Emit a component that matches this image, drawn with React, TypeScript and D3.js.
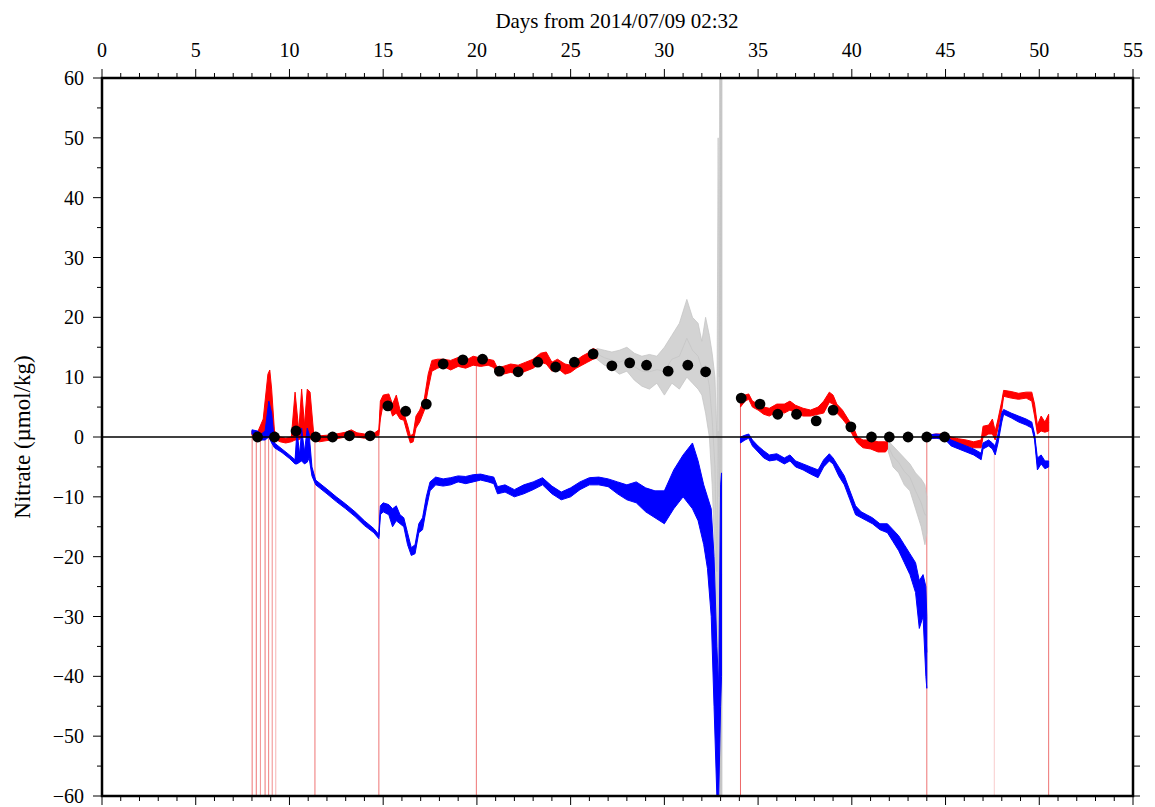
import React from "react";
import * as d3 from "d3";

type Band = [number, number, number]; // [day, low, high]

const xTickLabels = [0, 5, 10, 15, 20, 25, 30, 35, 40, 45, 50, 55];
const yTickLabels = [60, 50, 40, 30, 20, 10, 0, -10, -20, -30, -40, -50, -60];

const sampleDays = [8.3, 9.2, 10.35, 11.4, 12.3, 13.2, 14.3, 15.25, 16.2, 17.3, 18.2, 19.25, 20.3, 21.2, 22.2, 23.25, 24.2, 25.2, 26.2, 27.2, 28.15, 29.05, 30.2, 31.25, 32.2, 34.1, 35.1, 36.05, 37.05, 38.1, 39.0, 39.95, 41.05, 42.0, 43.0, 44.0, 44.95];
const sampleValues = [0, 0, 1.0, 0, 0, 0.2, 0.2, 5.2, 4.3, 5.5, 12.2, 12.9, 13.0, 11.0, 10.9, 12.5, 11.7, 12.5, 13.9, 11.9, 12.4, 12.0, 11.0, 12.0, 10.9, 6.5, 5.5, 3.8, 3.8, 2.7, 4.5, 1.7, 0, 0, 0, 0, 0];

const dropDays = [8.01, 8.23, 8.45, 8.7, 8.89, 9.08, 9.27, 11.36, 14.77, 19.97, 34.06, 44.0, 47.6, 50.5];
const dropTops = [0.5, 0.5, 0, 0, 8, 0, 0, 0, 0.7, 12, 5.7, 0, -1.5, 3.5];
const dropAlpha = [0.55, 0.55, 0.45, 0.55, 0.5, 0.45, 0.3, 0.55, 0.55, 0.55, 0.6, 0.55, 0.2, 0.55];

const redA: Band[] = [
  [8.0, 0.3, 1.0], [8.3, 0, 0.8], [8.6, 0.5, 3], [8.85, 2, 10.5], [8.95, 4, 11.2], [9.05, 1, 8],
  [9.2, -0.3, 1], [9.5, -0.8, 0], [9.8, -1, -0.2], [10.1, -0.8, 0], [10.3, -0.5, 7.5], [10.5, -0.5, 1],
  [10.65, 0, 8], [10.8, 0, 2], [10.95, 0, 8], [11.1, -0.3, 7.5], [11.3, -0.5, 0.3], [11.6, -0.8, 0.2],
  [12.0, -0.6, 0.3], [12.5, -0.3, 0.5], [13.0, 0, 0.8], [13.3, 0.3, 1.2], [13.6, 0, 0.7], [14.0, -0.2, 0.5],
  [14.5, 0, 0.6], [14.77, 0.3, 1.2], [14.85, 3, 6], [15.0, 5.5, 7], [15.3, 5.5, 7.2], [15.5, 3.5, 5.5],
  [15.7, 4, 7], [15.9, 3, 4.5], [16.1, 2.8, 4], [16.3, 0.5, 2], [16.45, -1, 0.2], [16.6, -0.8, 0.5],
  [16.75, 1.5, 3.5], [16.95, 2.5, 4.5], [17.2, 4.5, 6.5], [17.4, 8, 10.5], [17.6, 11, 12.8], [17.9, 11.5, 13],
  [18.2, 11.8, 13], [18.6, 11.2, 12.8], [19.0, 11.8, 13.3], [19.4, 11.5, 12.8], [19.8, 12, 13.5], [20.2, 11.8, 13.2],
  [20.6, 12, 13], [20.9, 11.6, 12.8], [21.1, 10.2, 11.5], [21.4, 10.5, 11.8], [21.8, 10.8, 12.2], [22.2, 10.5, 12],
  [22.6, 11, 12.5], [23.0, 11.5, 13], [23.4, 12.5, 14], [23.7, 12.2, 14.2], [24.0, 11, 12.5], [24.3, 11.5, 13],
  [24.7, 10.5, 12.2], [25.0, 10.8, 12], [25.3, 11.5, 12.8], [25.6, 12, 13.5], [25.9, 12.5, 14], [26.2, 13, 14.8],
  [26.4, 13.2, 14.5],
];

const greyA: Band[] = [
  [26.4, 13, 14.8], [26.8, 12, 14.5], [27.2, 11.5, 14.2], [27.6, 10.5, 14.5], [28.0, 11, 15], [28.4, 9.5, 14],
  [28.8, 8.5, 13.5], [29.2, 8, 13.8], [29.6, 9, 13.5], [30.0, 7, 15], [30.4, 9, 17], [30.8, 8, 19],
  [31.2, 10, 23], [31.5, 9, 20], [31.8, 8, 19], [32.0, 7, 16], [32.2, 4, 20], [32.4, 0, 17],
  [32.55, -8, 14], [32.7, -20, 10], [32.8, -45, 0], [32.87, -48, 50], [32.93, -30, 10], [33.0, -60, 60], [33.07, -60, 60],
];

const blueA: Band[] = [
  [8.0, 0.5, 1.2], [8.3, 0, 1], [8.5, -0.5, 0.5], [8.7, -0.5, 1], [8.9, 0, 6], [9.05, -1, 4],
  [9.2, -1.8, -1], [9.6, -2.6, -2], [10.0, -3.6, -3], [10.3, -4.5, -3.8], [10.4, -4.5, 1], [10.55, -4.2, -3],
  [10.65, -4, 1.5], [10.8, -4.5, -2.5], [10.95, -4.2, 1.5], [11.05, -3.5, 0.5], [11.2, -6.5, -5], [11.4, -8, -7.2],
  [12.0, -9.5, -8.7], [12.5, -10.8, -10], [13.0, -12, -11.2], [13.5, -13.3, -12.5], [14.0, -14.8, -14], [14.5, -16, -15.3],
  [14.77, -17, -16.3], [14.85, -13, -11.5], [15.0, -12.5, -11], [15.3, -13, -11.3], [15.5, -15, -12], [15.7, -14, -11.5],
  [15.9, -14.5, -13], [16.1, -15, -13.5], [16.3, -18, -16], [16.5, -19.8, -18.5], [16.7, -19.5, -18], [16.9, -16, -14.5],
  [17.1, -15.5, -13.5], [17.3, -12, -10], [17.5, -9, -7.5], [17.8, -8, -6.7], [18.2, -8.2, -7], [18.6, -8, -6.8],
  [19.0, -7.5, -6.5], [19.4, -7.8, -6.6], [19.8, -7.5, -6.3], [20.2, -7.2, -6.2], [20.6, -7.5, -6.5], [20.9, -7.8, -6.7],
  [21.1, -9.5, -8.3], [21.5, -9.2, -8], [22.0, -10, -8.8], [22.5, -9.5, -8], [23.0, -8.8, -7.5], [23.5, -8, -6.8],
  [24.0, -9.5, -8.2], [24.5, -10.5, -9.2], [25.0, -10, -8.5], [25.5, -8.8, -7.5], [26.0, -8, -6.8], [26.5, -8, -6.7],
  [27.0, -8.3, -7], [27.5, -9.5, -7.5], [28.0, -10.5, -8], [28.5, -11, -7.5], [29.0, -12.5, -8.5], [29.5, -13.5, -9],
  [30.0, -14.5, -9], [30.5, -12, -5.5], [31.0, -10, -3], [31.5, -12, -1], [31.8, -14, -4], [32.1, -18, -8],
  [32.3, -22, -10], [32.5, -30, -12], [32.65, -45, -20], [32.8, -60, -35], [32.9, -60, -42], [33.0, -45, -8],
  [33.05, -40, -6],
];

const redB: Band[] = [
  [34.06, 5, 6], [34.3, 6, 7], [34.5, 6.3, 7.2], [34.7, 5, 6], [35.0, 4.5, 5.5], [35.3, 3.8, 5],
  [35.6, 3.5, 4.8], [36.0, 4.2, 5.5], [36.4, 4, 5.5], [36.7, 4.5, 6], [37.0, 4, 5.3], [37.4, 3.5, 4.8],
  [37.8, 3.5, 4.5], [38.2, 3.8, 5], [38.5, 4, 6], [38.8, 5.8, 7.5], [39.0, 5.5, 7], [39.2, 4, 5.5],
  [39.5, 3, 4.5], [39.8, 1.8, 3], [40.1, 0, 1.5], [40.3, -1, 0], [40.6, -1.8, -0.5], [41.0, -2, -0.5],
  [41.4, -2.5, -0.8], [41.8, -2.5, -0.8], [41.9, -2, -0.5],
];

const greyB: Band[] = [
  [41.9, -2, -0.5], [42.2, -5, -1.5], [42.5, -6, -2.5], [42.8, -8, -3.5], [43.1, -9, -4.5], [43.4, -12, -6],
  [43.7, -15, -7], [43.9, -18, -8], [44.0, -16, -10],
];

const blueB: Band[] = [
  [34.06, -1, 0], [34.3, -0.5, 0.3], [34.5, -0.2, 0.5], [34.7, -1.5, -0.5], [35.0, -2.5, -1.5], [35.3, -3.5, -2.3],
  [35.6, -4, -3], [36.0, -3.8, -2.8], [36.4, -4.5, -3.5], [36.7, -4, -3], [37.0, -5, -4], [37.4, -5.5, -4.5],
  [37.8, -6.2, -5], [38.2, -6.8, -5.5], [38.5, -5, -3.8], [38.8, -4, -2.8], [39.0, -4.5, -3.5], [39.3, -6.5, -5],
  [39.6, -8, -6.5], [39.9, -10.5, -9], [40.2, -13, -11.5], [40.5, -13.5, -12.5], [40.8, -14, -13], [41.1, -14.5, -13.5],
  [41.5, -15.5, -14.5], [41.9, -16, -14.5], [42.2, -17.5, -15.5], [42.5, -19, -16.5], [42.8, -21, -18], [43.1, -23, -19.5],
  [43.4, -26, -21], [43.6, -32, -24], [43.8, -30, -23], [43.95, -40, -25], [44.0, -42, -30],
];

const redC: Band[] = [
  [44.0, -0.3, 0.3], [44.5, -0.2, 0.5], [45.0, -0.3, 0.5], [45.3, -0.8, 0], [45.7, -1.2, -0.3], [46.1, -1.5, -0.5],
  [46.5, -1.8, -0.8], [46.9, -1.8, -0.5], [47.0, 0, 1.8], [47.3, 0.5, 2], [47.5, 0.5, 3], [47.65, -0.5, 1],
  [47.8, 1.5, 3], [48.0, 4.5, 6], [48.1, 6.8, 7.8], [48.5, 6.5, 7.6], [48.9, 6.3, 7.3], [49.3, 6.5, 7.5],
  [49.6, 6, 7.5], [49.75, 3.5, 5.5], [49.9, 0.5, 2], [50.1, 1, 3.5], [50.3, 0.8, 2.5], [50.5, 1, 3.8],
];

const blueC: Band[] = [
  [44.0, -0.3, 0.3], [44.5, -0.2, 0.5], [45.0, -0.5, 0.3], [45.3, -1.5, -0.5], [45.7, -2, -1], [46.1, -2.5, -1.5],
  [46.5, -3, -2], [46.9, -3.8, -2.7], [47.0, -2, -1], [47.3, -1.5, -0.5], [47.5, -2, -1], [47.65, -3, -1.5],
  [47.8, -1, 0.5], [48.0, 2.5, 4], [48.1, 3.8, 4.6], [48.5, 3.2, 4], [48.9, 2.5, 3.5], [49.3, 2, 3],
  [49.6, 1.5, 2.5], [49.75, -0.5, 0.5], [49.9, -5.5, -3.5], [50.1, -4.5, -3], [50.3, -5.3, -4], [50.5, -5, -4],
];

const W = 1155;
const H = 807;
const LEFT = 102;
const RIGHT = 1133;
const TOP = 78;
const BOTTOM = 796;
const FONT = "'Liberation Serif', 'Times New Roman', serif";

export default function App() {
  const x = d3.scaleLinear().domain([0, 55]).range([LEFT, RIGHT]);
  const y = d3.scaleLinear().domain([-60, 60]).range([BOTTOM, TOP]);

  const area = d3
    .area<Band>()
    .x((d) => x(d[0]))
    .y0((d) => y(d[1]))
    .y1((d) => y(d[2]))
    .curve(d3.curveLinear);
  const mid = d3
    .line<Band>()
    .x((d) => x(d[0]))
    .y((d) => y((d[1] + d[2]) / 2));

  const minorX = d3.range(0, 56, 1);
  const minorY = d3.range(-60, 61, 5);

  const band = (data: Band[], color: string, opacity: number, key: string) => (
    <g key={key}>
      <path d={area(data) || ""} fill={color} fillOpacity={opacity} stroke={color} strokeOpacity={opacity} strokeWidth={1} />
      <path d={mid(data) || ""} fill="none" stroke={color} strokeOpacity={opacity} strokeWidth={1} />
    </g>
  );

  return (
    <svg width={W} height={H} style={{ position: "absolute", left: 0, top: 0, background: "#fff" }} fontFamily={FONT}>
      <defs>
        <clipPath id="plotClip">
          <rect x={LEFT} y={TOP} width={RIGHT - LEFT} height={BOTTOM - TOP} />
        </clipPath>
      </defs>
      <rect x={0} y={0} width={W} height={H} fill="#fff" />

      <g clipPath="url(#plotClip)">
        {dropDays.map((d, i) => (
          <line key={"dr" + i} x1={x(d)} x2={x(d)} y1={y(dropTops[i])} y2={BOTTOM} stroke="#e00000" strokeOpacity={dropAlpha[i]} strokeWidth={1} />
        ))}
        <line x1={x(33.0)} x2={x(33.0)} y1={TOP} y2={BOTTOM} stroke="#cccccc" strokeWidth={3} />
        {band(greyA, "#c4c4c4", 0.75, "gA")}
        {band(greyB, "#c4c4c4", 0.8, "gB")}
        {band(redA, "#ff0000", 1, "rA")}
        {band(redB, "#ff0000", 1, "rB")}
        {band(redC, "#ff0000", 1, "rC")}
        {band(blueA, "#0000ff", 1, "bA")}
        {band(blueB, "#0000ff", 1, "bB")}
        {band(blueC, "#0000ff", 1, "bC")}
        <line x1={LEFT} x2={RIGHT} y1={y(0)} y2={y(0)} stroke="#000" strokeWidth={1.5} />
        {sampleDays.map((d, i) => (
          <circle key={"s" + i} cx={x(d)} cy={y(sampleValues[i])} r={5.4} fill="#000" />
        ))}
      </g>

      {/* frame */}
      <rect x={LEFT} y={TOP} width={RIGHT - LEFT} height={BOTTOM - TOP} fill="none" stroke="#000" strokeWidth={2.5} />

      {/* top & bottom ticks */}
      {minorX.map((d) => {
        const major = d % 5 === 0;
        const len = major ? 9 : 5;
        return (
          <g key={"tx" + d}>
            <line x1={x(d)} x2={x(d)} y1={TOP} y2={TOP - len} stroke="#000" strokeWidth={1} />
            <line x1={x(d)} x2={x(d)} y1={BOTTOM} y2={BOTTOM + len} stroke="#000" strokeWidth={1} />
          </g>
        );
      })}
      {xTickLabels.map((d) => (
        <text key={"xl" + d} x={x(d)} y={57} textAnchor="middle" fontSize={20} fill="#000">
          {d}
        </text>
      ))}

      {/* left & right ticks */}
      {minorY.map((v) => {
        const major = v % 10 === 0;
        const len = major ? 9 : 5;
        return (
          <g key={"ty" + v}>
            <line x1={LEFT} x2={LEFT - len} y1={y(v)} y2={y(v)} stroke="#000" strokeWidth={1} />
            <line x1={RIGHT} x2={RIGHT + 7} y1={y(v)} y2={y(v)} stroke="#000" strokeWidth={1} />
          </g>
        );
      })}
      {yTickLabels.map((v) => (
        <text key={"yl" + v} x={84} y={y(v) + 7} textAnchor="end" fontSize={20} fill="#000">
          {v < 0 ? "\u2212" + Math.abs(v) : String(v)}
        </text>
      ))}

      <text x={617} y={28} textAnchor="middle" fontSize={21} fill="#000">
        Days from 2014/07/09 02:32
      </text>
      <text transform={`translate(30, ${y(0)}) rotate(-90)`} textAnchor="middle" fontSize={23} fill="#000">
        Nitrate (µmol/kg)
      </text>
    </svg>
  );
}
